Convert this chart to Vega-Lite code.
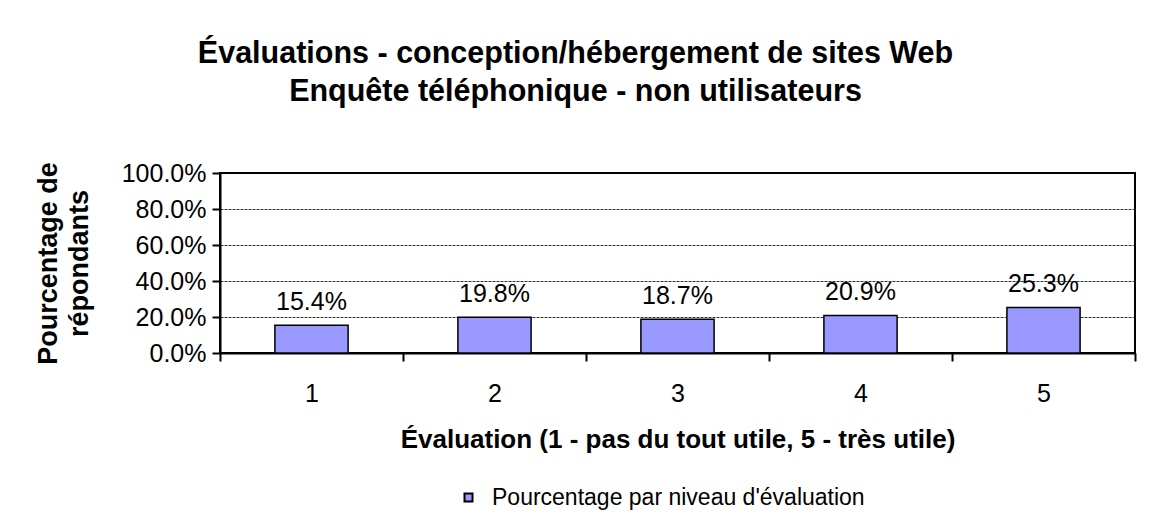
{
  "$schema": "https://vega.github.io/schema/vega-lite/v6.json",
  "autosize": {"type": "none"},
  "width": 915,
  "height": 180,
  "padding": {"left": 220, "top": 173, "right": 15, "bottom": 174},
  "background": "white",
  "title": {
    "text": ["Évaluations - conception/hébergement de sites Web", "Enquête téléphonique - non utilisateurs"],
    "font": "Liberation Sans",
    "fontSize": 30.5,
    "fontWeight": "bold",
    "color": "black",
    "lineHeight": 38,
    "anchor": "middle",
    "frame": "group",
    "dx": -102,
    "offset": 54
  },
  "data": {
    "values": [
      {"niveau": "1", "pct": 0.154, "serie": "Pourcentage par niveau d'évaluation"},
      {"niveau": "2", "pct": 0.198, "serie": "Pourcentage par niveau d'évaluation"},
      {"niveau": "3", "pct": 0.187, "serie": "Pourcentage par niveau d'évaluation"},
      {"niveau": "4", "pct": 0.209, "serie": "Pourcentage par niveau d'évaluation"},
      {"niveau": "5", "pct": 0.253, "serie": "Pourcentage par niveau d'évaluation"}
    ]
  },
  "encoding": {
    "x": {
      "field": "niveau",
      "type": "ordinal",
      "scale": {"paddingInner": 0, "paddingOuter": 0},
      "axis": {
        "title": "Évaluation (1 - pas du tout utile, 5 - très utile)",
        "titleFont": "Liberation Sans",
        "titleFontSize": 26,
        "titleFontWeight": "bold",
        "titleColor": "black",
        "titlePadding": 20,
        "labelAngle": 0,
        "labelFont": "Liberation Sans",
        "labelFontSize": 25,
        "labelColor": "black",
        "labelPadding": 20,
        "tickBand": "extent",
        "ticks": true,
        "tickSize": 8,
        "tickColor": "black",
        "tickWidth": 2,
        "tickOpacity": 1,
        "domainColor": "black",
        "domainWidth": 2
      }
    },
    "y": {
      "field": "pct",
      "type": "quantitative",
      "scale": {"domain": [0, 1]},
      "axis": {
        "title": ["Pourcentage de", "répondants"],
        "titleFont": "Liberation Sans",
        "titleFontSize": 27,
        "titleFontWeight": "bold",
        "titleColor": "black",
        "titleAngle": -90,
        "titleAlign": "center",
        "titleBaseline": "alphabetic",
        "titleLineHeight": 31,
        "titleX": -164,
        "titleY": 90,
        "values": [0, 0.2, 0.4, 0.6, 0.8, 1],
        "format": ".1%",
        "labelFont": "Liberation Sans",
        "labelFontSize": 25,
        "labelColor": "black",
        "labelPadding": 6,
        "ticks": true,
        "tickSize": 8,
        "tickColor": "black",
        "tickWidth": 2,
        "tickOpacity": 1,
        "domainColor": "black",
        "domainWidth": 2,
        "grid": true,
        "gridColor": "black",
        "gridWidth": 0.8,
        "gridDash": [3, 1]
      }
    }
  },
  "layer": [
    {
      "mark": {"type": "bar", "stroke": "black", "strokeWidth": 1.5, "width": {"band": 0.4}},
      "encoding": {
        "color": {
          "field": "serie",
          "type": "nominal",
          "scale": {"range": ["#9999FF"]},
          "legend": {
            "title": null,
            "orient": "none",
            "legendX": 237,
            "legendY": 313,
            "symbolType": "square",
            "symbolSize": 64,
            "symbolStrokeColor": "black",
            "symbolStrokeWidth": 2,
            "symbolOpacity": 1,
            "labelFont": "Liberation Sans",
            "labelFontSize": 23,
            "labelColor": "black",
            "labelOffset": 12,
            "labelLimit": 0
          }
        }
      }
    },
    {
      "mark": {"type": "text", "baseline": "alphabetic", "dy": -15, "font": "Liberation Sans", "fontSize": 25, "color": "black"},
      "encoding": {
        "text": {"field": "pct", "type": "quantitative", "format": ".1%"}
      }
    }
  ],
  "config": {
    "view": {"stroke": "black", "strokeWidth": 2},
    "axis": {"gridOpacity": 1}
  }
}
